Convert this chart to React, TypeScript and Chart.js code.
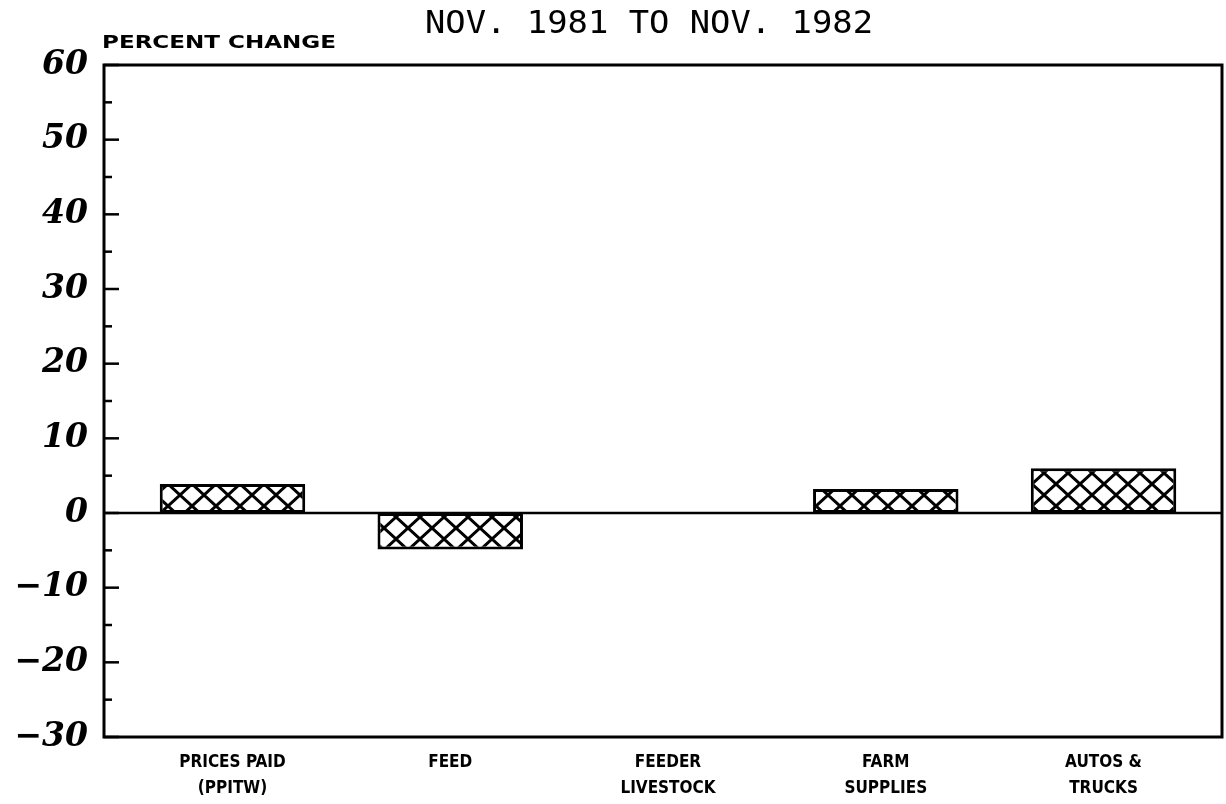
import React, { useEffect, useRef } from "react";
import { Chart, registerables } from "chart.js";

Chart.register(...registerables);

const categories: string[][] = [
  ["PRICES PAID", "(PPITW)"],
  ["FEED"],
  ["FEEDER", "LIVESTOCK"],
  ["FARM", "SUPPLIES"],
  ["AUTOS &", "TRUCKS"],
];
const percentChange: number[] = [3.9, -4.9, 0, 3.2, 6.0];
const yTickValues: number[] = [-30, -20, -10, 0, 10, 20, 30, 40, 50, 60];
const titleText = "NOV. 1981 TO NOV. 1982";
const yAxisTitle = "PERCENT CHANGE";

function makeHatch(): CanvasPattern | string {
  const c = document.createElement("canvas");
  const w = 24;
  const h = 22;
  c.width = w;
  c.height = h;
  const g = c.getContext("2d");
  if (!g) return "#fff";
  g.fillStyle = "#fff";
  g.fillRect(0, 0, w, h);
  g.strokeStyle = "#000";
  g.lineWidth = 3;
  g.beginPath();
  for (let k = -1; k <= 1; k++) {
    g.moveTo(k * w, 0);
    g.lineTo(k * w + w, h);
    g.moveTo(k * w + w, 0);
    g.lineTo(k * w, h);
  }
  g.stroke();
  const p = g.createPattern(c, "repeat");
  return p || "#fff";
}

function fitText(ctx: CanvasRenderingContext2D, text: string, x: number, y: number, target: number) {
  const w = ctx.measureText(text).width;
  ctx.save();
  ctx.translate(x, y);
  ctx.scale(target / w, 1);
  ctx.fillText(text, 0, 0);
  ctx.restore();
}

const framePlugin = {
  id: "framePlugin",
  beforeDatasetsDraw(chart: any) {
    const { ctx, chartArea, scales } = chart;
    const y = scales.y;
    ctx.save();
    ctx.strokeStyle = "#000";
    ctx.lineWidth = 2.5;
    const y0 = y.getPixelForValue(0);
    ctx.beginPath();
    ctx.moveTo(chartArea.left, y0);
    ctx.lineTo(chartArea.right, y0);
    ctx.stroke();
    ctx.restore();
  },
  afterDatasetsDraw(chart: any) {
    const { ctx, chartArea, scales } = chart;
    const y = scales.y;
    ctx.save();
    ctx.strokeStyle = "#000";
    ctx.lineWidth = 3;
    ctx.strokeRect(chartArea.left, chartArea.top, chartArea.right - chartArea.left, chartArea.bottom - chartArea.top);
    ctx.lineWidth = 2.5;
    for (let v = -30; v <= 60; v += 5) {
      const py = y.getPixelForValue(v);
      const len = v % 10 === 0 ? 15 : 8;
      ctx.beginPath();
      ctx.moveTo(chartArea.left, py);
      ctx.lineTo(chartArea.left + len, py);
      ctx.stroke();
    }
    ctx.fillStyle = "#000";
    ctx.textBaseline = "alphabetic";
    ctx.textAlign = "left";
    ctx.font = "32px 'DejaVu Sans Mono', monospace";
    fitText(ctx, titleText, 425, 33, 448);
    ctx.font = "bold 18px 'DejaVu Sans', sans-serif";
    fitText(ctx, yAxisTitle, 102, 48, 234);
    ctx.restore();
  },
};

export default function App() {
  const ref = useRef<HTMLCanvasElement | null>(null);
  useEffect(() => {
    if (!ref.current) return;
    const hatch = makeHatch();
    const chart = new Chart(ref.current, {
      type: "bar",
      data: {
        datasets: [
          {
            data: percentChange.map((v, i) => ({ x: i, y: v })),
            backgroundColor: hatch as any,
            borderColor: "#000",
            borderWidth: 3,
            borderSkipped: false,
            barPercentage: 0.668,
            categoryPercentage: 1,
          },
        ],
      },
      options: {
        responsive: false,
        animation: false,
        maintainAspectRatio: false,
        layout: { padding: { left: 0, right: 4, top: 65, bottom: 0 } },
        plugins: { legend: { display: false }, tooltip: { enabled: false }, title: { display: false } },
        scales: {
          x: {
            type: "linear",
            offset: false,
            min: -0.59,
            max: 4.544,
            grid: { display: false, drawTicks: false, offset: false },
            border: { display: false },
            afterBuildTicks: (s: any) => {
              s.ticks = categories.map((_, i) => ({ value: i }));
            },
            afterFit: (s: any) => {
              s.height = 67;
            },
            ticks: {
              autoSkip: false,
              maxRotation: 0,
              padding: 12,
              color: "#000",
              font: { family: "'Liberation Sans Narrow', 'DejaVu Sans Condensed', 'Roboto Condensed', sans-serif", size: 17, weight: "bold", lineHeight: 1.55 },
              callback: (v: any) => categories[Math.round(Number(v))] as any,
            },
          },
          y: {
            min: -30,
            max: 60,
            grid: { display: false, drawTicks: false },
            border: { display: false },
            afterBuildTicks: (s: any) => {
              s.ticks = yTickValues.map((v) => ({ value: v }));
            },
            afterFit: (s: any) => {
              s.width = 104;
            },
            ticks: {
              padding: 16,
              color: "#000",
              font: { family: "'DejaVu Serif', serif", size: 33, weight: "bold", style: "italic" },
              callback: (v: any) => String(v).replace("-", "\u2212"),
            },
          },
        },
      },
      plugins: [framePlugin],
    } as any);
    return () => chart.destroy();
  }, []);
  return (
    <div style={{ position: "fixed", left: 0, top: 0, width: 1226, height: 804, background: "#fff" }}>
      <canvas ref={ref} width={1226} height={804} style={{ display: "block" }} />
    </div>
  );
}
